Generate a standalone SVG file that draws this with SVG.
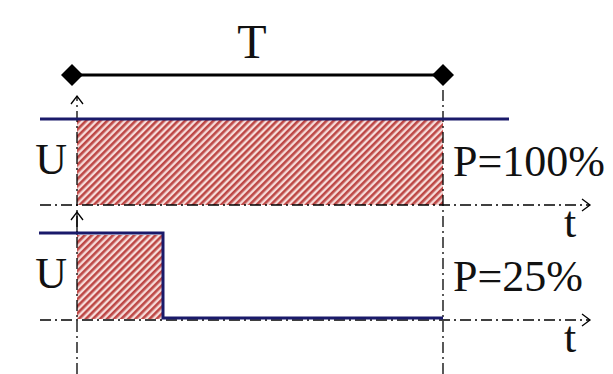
<svg xmlns="http://www.w3.org/2000/svg" width="613" height="374" viewBox="0 0 613 374">
<defs>
<pattern id="hatch" width="5" height="5" patternUnits="userSpaceOnUse" patternTransform="rotate(45)">
<rect width="5" height="5" fill="#f6dcda"/>
<rect width="2.6" height="5" fill="#bd4745"/>
</pattern>
<marker id="open" markerWidth="16" markerHeight="16" refX="9" refY="8" orient="auto" markerUnits="userSpaceOnUse">
<path d="M1,2 L9,8 L1,14" fill="none" stroke="#000" stroke-width="1.3"/>
</marker>
</defs>
<style>
.axis{stroke:#000;stroke-width:1.3;fill:none;stroke-dasharray:11 4 2 4;}
.sig{stroke:#1a1a6a;stroke-width:3;fill:none;}
.hatch{fill:url(#hatch);}
.dia{fill:#000;}
</style>
<rect width="613" height="374" fill="#fff"/>
<g id="hatch-areas">
<rect class="hatch" x="77" y="120" width="366" height="85"/>
<rect class="hatch" x="77" y="235" width="86" height="84"/>
</g>
<g id="connectors">
<line x1="72" y1="75" x2="443" y2="75" stroke="#000" stroke-width="3"/>
<line class="axis" x1="77" y1="374" x2="77" y2="96" marker-end="url(#open)"/>
<line class="axis" x1="443" y1="374" x2="443" y2="86"/>
<line class="axis" x1="40" y1="205" x2="590" y2="205" marker-end="url(#open)"/>
<line class="axis" x1="40" y1="320" x2="590" y2="320" marker-end="url(#open)"/>
<line x1="77" y1="235" x2="77" y2="212" stroke="#000" stroke-width="1.3" marker-end="url(#open)"/>
<polyline class="sig" points="40,119 509,119"/>
<polyline class="sig" points="39,233 163,233 163,318 443,318"/>
</g>
<g id="period">
<path class="dia" d="M72,64 L83,75 L72,86 L61,75 Z"/>
<path class="dia" d="M443,64 L454,75 L443,86 L432,75 Z"/>
<text x="252" y="58" font-size="48" text-anchor="middle" font-family="Liberation Serif" fill="#111">T</text>
</g>
<g id="signal-100">
<text x="67" y="174" font-size="44" text-anchor="end" font-family="Liberation Serif" fill="#111">U</text>
<text x="453" y="176" font-size="44" font-family="Liberation Serif" fill="#111">P=100%</text>
<text x="570" y="237" font-size="44" text-anchor="middle" font-family="Liberation Serif" fill="#111">t</text>
</g>
<g id="signal-25">
<text x="67" y="288" font-size="44" text-anchor="end" font-family="Liberation Serif" fill="#111">U</text>
<text x="453" y="291" font-size="44" font-family="Liberation Serif" fill="#111">P=25%</text>
<text x="570" y="352" font-size="44" text-anchor="middle" font-family="Liberation Serif" fill="#111">t</text>
</g>
</svg>
